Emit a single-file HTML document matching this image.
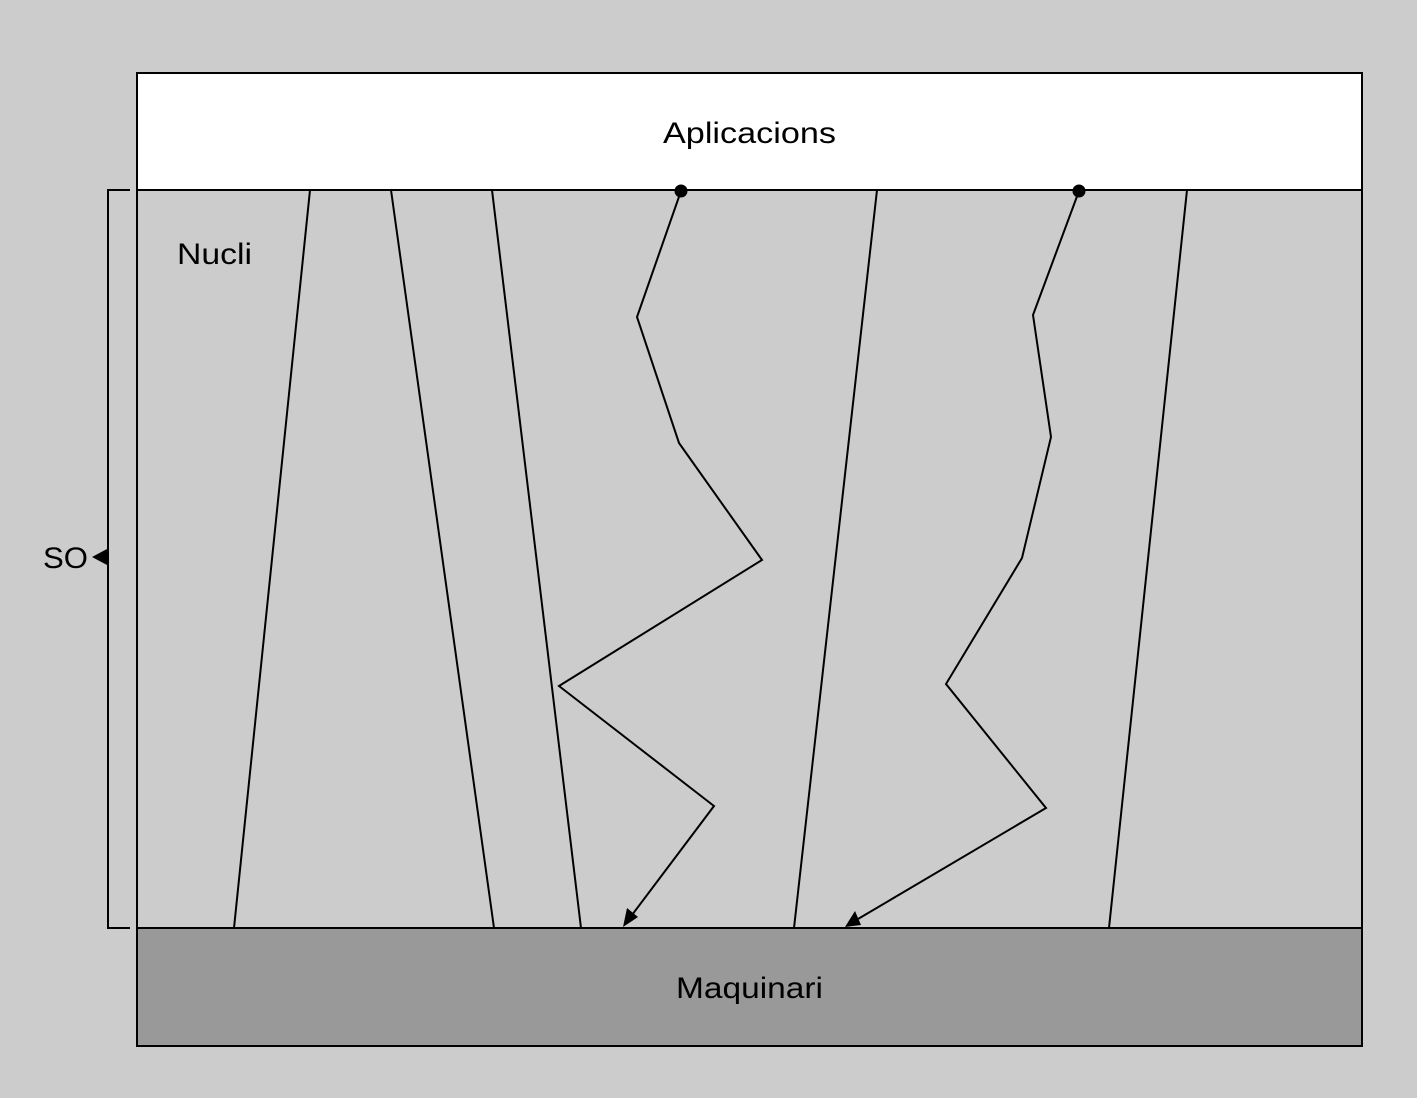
<!DOCTYPE html>
<html><head><meta charset="utf-8"><style>
html,body{margin:0;padding:0;background:#cccccc;}
svg{display:block}
text{font-family:"Liberation Sans",sans-serif;font-size:30px;fill:#000;font-weight:300}
</style></head><body>
<svg width="1417" height="1098" viewBox="0 0 1417 1098" xmlns="http://www.w3.org/2000/svg">
<rect x="0" y="0" width="1417" height="1098" fill="#cccccc"/>
<rect x="137" y="73" width="1225" height="117" fill="#ffffff" stroke="#000" stroke-width="2"/>
<rect x="137" y="190" width="1225" height="738" fill="#cccccc" stroke="#000" stroke-width="2"/>
<rect x="137" y="928" width="1225" height="118" fill="#999999" stroke="#000" stroke-width="2"/>
<g stroke="#000" stroke-width="2" fill="none">
<line x1="310" y1="190" x2="234" y2="928"/>
<line x1="391" y1="190" x2="494" y2="928"/>
<line x1="492" y1="190" x2="581" y2="928"/>
<line x1="877" y1="190" x2="794" y2="928"/>
<line x1="1187" y1="190" x2="1109" y2="928"/>
<polyline points="681,191 637,317 679,443 762,560 559,686 714,806 632,915"/>
<polyline points="1079,191 1033,315 1051,437 1022,558 946,684 1046,808 858,919"/>
<polyline points="130,190 108,190 108,928 130,928"/>
</g>
<circle cx="681" cy="191" r="6.5" fill="#000"/>
<circle cx="1079" cy="191" r="6.5" fill="#000"/>
<polygon points="623,927 627,908 638,917" fill="#000"/>
<polygon points="845,927 855,911 861,925" fill="#000"/>
<polygon points="92,557 107,549 107,565" fill="#000"/>
<text x="663" y="143" textLength="173" lengthAdjust="spacingAndGlyphs">Aplicacions</text>
<text x="177" y="264" textLength="75" lengthAdjust="spacingAndGlyphs">Nucli</text>
<text x="676" y="998" textLength="147" lengthAdjust="spacingAndGlyphs">Maquinari</text>
<text x="43" y="568" textLength="45" lengthAdjust="spacingAndGlyphs">SO</text>
</svg>
</body></html>
